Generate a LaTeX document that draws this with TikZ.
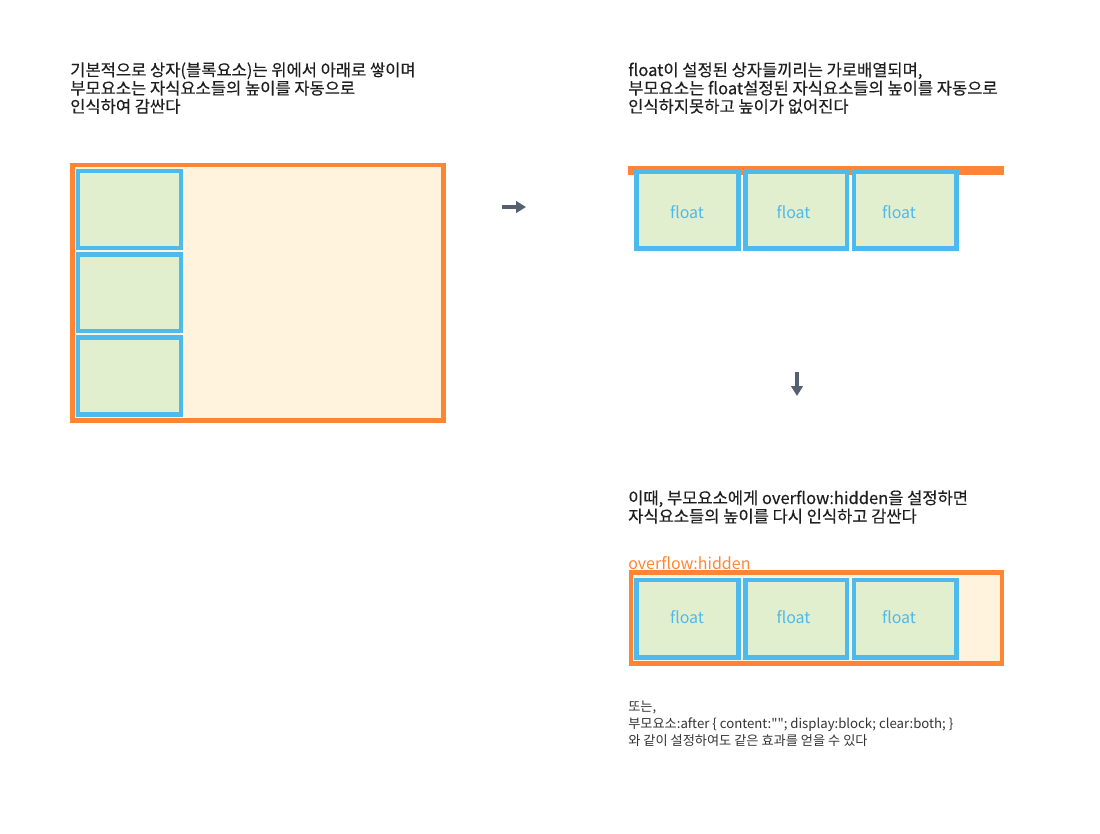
\documentclass[tikz,border=0pt]{standalone}
\usepackage{fontspec}
\setmainfont{Noto Sans CJK KR}
\newfontfamily\heavyfont[FakeBold=0.3]{Noto Sans CJK KR}
\newfontfamily\notefont[Ligatures=TeXOff]{Noto Sans CJK KR}
\usetikzlibrary{arrows.meta}
\definecolor{org}{HTML}{FF8535}
\definecolor{orgfill}{HTML}{FFF3DD}
\definecolor{blu}{HTML}{4DBAEE}
\definecolor{grn}{HTML}{E2EFCE}
\definecolor{txt}{HTML}{1E1E1E}
\definecolor{txtb}{HTML}{333333}
\definecolor{arr}{HTML}{56606E}
\begin{document}
\begin{tikzpicture}[x=0.75pt,y=-0.75pt,
  parent/.style={draw=org,fill=orgfill,line width=3.4pt},
  child/.style={draw=blu,fill=grn,line width=3.4pt},
  maintext/.style={anchor=base west,inner sep=0pt,text=txt,font=\heavyfont\fontsize{12.4pt}{14pt}\selectfont},
  notetext/.style={anchor=base west,inner sep=0pt,text=txtb,font=\notefont\fontsize{9.9pt}{12pt}\selectfont},
  flt/.style={inner sep=0pt,text=blu,font=\fontsize{12pt}{14pt}\selectfont},
  orglabel/.style={anchor=base west,inner sep=0pt,text=org,font=\fontsize{12pt}{14pt}\selectfont},
  bigarrow/.style={draw=arr,line width=2.8pt,-{Triangle[length=7.4pt,width=8.6pt]}}]
\useasboundingbox (0,0) rectangle (1100,833);

% ---------- left: block boxes ----------
\node[maintext] (l1) at (70,76) {기본적으로 상자(블록요소)는 위에서 아래로 쌓이며};
\node[maintext] (l2) at (70,94.3) {부모요소는 자식요소들의 높이를 자동으로};
\node[maintext] (l3) at (70,112.5) {인식하여 감싼다};

\draw[parent] (72.5,165) rectangle (443.5,420.5);
\draw[child] (78,171) rectangle (181,248);
\draw[child] (78,254.5) rectangle (181,331);
\draw[child] (78,337.5) rectangle (181,414.5);

% ---------- right top: floats ----------
\node[maintext] (r1) at (628,76) {float이 설정된 상자들끼리는 가로배열되며,};
\node[maintext] (r2) at (628,94.3) {부모요소는 float설정된 자식요소들의 높이를 자동으로};
\node[maintext] (r3) at (628,112.5) {인식하지못하고 높이가 없어진다};

\draw[parent] (630.5,167.8) rectangle (1001.5,172.4);
\draw[child] (636.3,171.3) rectangle (738.3,248.4);
\draw[child] (745.6,171.3) rectangle (847,248.4);
\draw[child] (854,171.3) rectangle (956.4,248.4);
\node[flt] (fa1) at (687,212) {float};
\node[flt] (fa2) at (793.5,212) {float};
\node[flt] (fa3) at (899,212) {float};

% ---------- arrows ----------
\coordinate (ra) at (502,207);
\coordinate (rb) at (526,207);
\draw[bigarrow] (ra) -- (rb);
\coordinate (da) at (797,372);
\coordinate (db) at (797,396);
\draw[bigarrow] (da) -- (db);

% ---------- right bottom: overflow hidden ----------
\node[maintext] (m1) at (628,504) {이때, 부모요소에게 overflow:hidden을 설정하면};
\node[maintext] (m2) at (628,522.3) {자식요소들의 높이를 다시 인식하고 감싼다};

\node[orglabel] (oh) at (628,569.5) {overflow:hidden};
\draw[parent] (630.8,572.5) rectangle (1002,663.7);
\draw[child] (636.3,580) rectangle (738.3,657.7);
\draw[child] (745.6,580) rectangle (847,657.7);
\draw[child] (854,580) rectangle (956.4,657.7);
\node[flt] (fb1) at (687,617) {float};
\node[flt] (fb2) at (793.5,617) {float};
\node[flt] (fb3) at (899,617) {float};

% ---------- note ----------
\node[notetext] (n1) at (628,711.5) {또는,};
\node[notetext] (n2) at (628,728.5) {부모요소:after \{ content:""; display:block; clear:both; \}};
\node[notetext] (n3) at (628,745.5) {와 같이 설정하여도 같은 효과를 얻을 수 있다};
\end{tikzpicture}
\end{document}
